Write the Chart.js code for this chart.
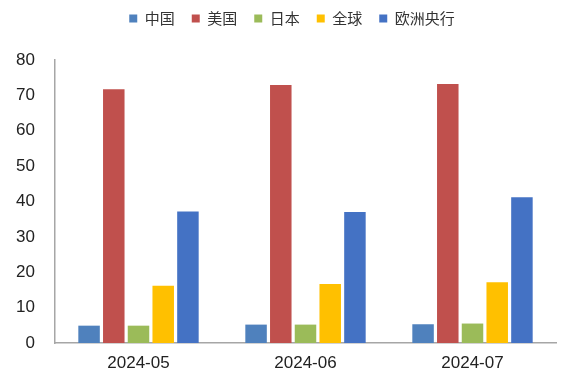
<!DOCTYPE html>
<html>
<head>
<meta charset="utf-8">
<script src="https://cdn.jsdelivr.net/npm/chart.js@4/dist/chart.umd.min.js"></script>
<style>
html,body{margin:0;padding:0;background:#fff;}
#wrap{width:567px;height:379px;}
</style>
</head>
<body>
<div id="wrap"><canvas id="c" width="567" height="379"></canvas></div>
<script>
const categories = ['2024-05', '2024-06', '2024-07'];
const seriesNames = ['中国', '美国', '日本', '全球', '欧洲央行'];
const china = [4.9, 5.2, 5.3];
const usa = [71.7, 72.9, 73.2];
const japan = [4.9, 5.2, 5.5];
const world = [16.2, 16.7, 17.2];
const ecb = [37.2, 37.0, 41.2];
const yTicks = [0, 10, 20, 30, 40, 50, 60, 70, 80];
const colors = ['#4F81BD', '#C0504D', '#9BBB59', '#FFC000', '#4472C4'];
const seriesValues = [china, usa, japan, world, ecb];

const legendHeightPlugin = {
  id: 'legendHeight',
  beforeUpdate(chart) {
    const lg = chart.legend;
    if (lg && !lg._patched) {
      const f = lg.fit;
      lg.fit = function () { f.call(this); this.height = 60; };
      lg._patched = true;
    }
  },
  afterLayout(chart) {
    const lg = chart.legend;
    if (lg) { lg.top -= 6; lg.bottom -= 6; lg.left += 14; lg.right += 14; }
  }
};

new Chart(document.getElementById('c'), {
  type: 'bar',
  data: {
    labels: categories,
    datasets: seriesNames.map((n, i) => ({
      label: n,
      data: seriesValues[i],
      backgroundColor: colors[i],
      borderWidth: 0,
      barPercentage: 0.87,
      categoryPercentage: 0.74
    }))
  },
  options: {
    responsive: false,
    animation: false,
    layout: { padding: { left: 0, right: 11, top: 0, bottom: 0 } },
    plugins: {
      legend: {
        position: 'top',
        labels: {
          boxWidth: 8,
          boxHeight: 8,
          padding: 17,
          color: '#333',
          font: { family: '"Noto Sans CJK SC", sans-serif', size: 15 }
        }
      },
      tooltip: { enabled: false }
    },
    scales: {
      x: {
        grid: { display: false, drawTicks: false },
        border: { display: true, color: '#A6A6A6', width: 1.5 },
        ticks: { color: '#222', padding: 10, font: { family: '"Liberation Sans", Arial, sans-serif', size: 17 } },
        afterFit(s) { s.height = 36; }
      },
      y: {
        min: 0, max: 80,
        afterBuildTicks(s) { s.ticks = yTicks.map(v => ({ value: v })); },
        grid: { display: false, drawTicks: false },
        border: { display: true, color: '#A6A6A6', width: 1.5 },
        ticks: { color: '#222', padding: 20, font: { family: '"Liberation Sans", Arial, sans-serif', size: 17 } },
        afterFit(s) { s.width = 55; }
      }
    }
  },
  plugins: [legendHeightPlugin]
});
</script>
</body>
</html>
